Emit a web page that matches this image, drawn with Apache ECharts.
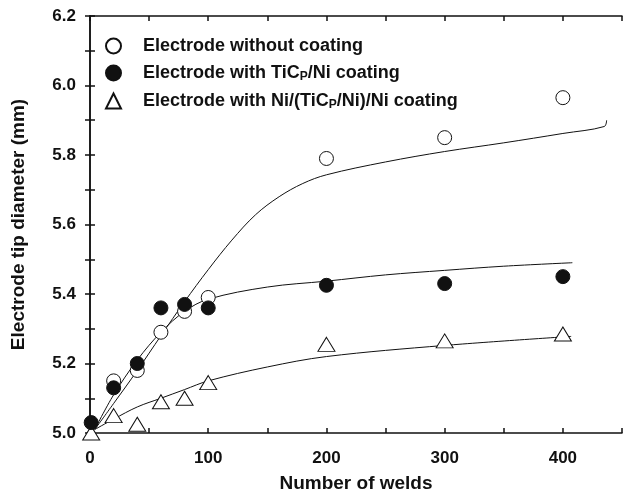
<!DOCTYPE html>
<html>
<head>
<meta charset="utf-8">
<script src="https://cdn.jsdelivr.net/npm/echarts@6/dist/echarts.min.js"></script>
<style>
  html, body { margin: 0; padding: 0; background: #fff; }
  #chart { width: 627px; height: 498px; }
</style>
</head>
<body>
<div id="chart"></div>
<script>
// measured points
const noCoat = [[20, 5.15], [40, 5.18], [60, 5.29], [80, 5.35], [100, 5.39], [200, 5.79], [300, 5.85], [400, 5.965]]
const ticCoat = [[1, 5.03], [20, 5.13], [40, 5.20], [60, 5.36], [80, 5.37], [100, 5.36], [200, 5.425], [300, 5.43], [400, 5.45]]
const niCoat = [[1, 5.0], [20, 5.05], [40, 5.025], [60, 5.09], [80, 5.10], [100, 5.145], [200, 5.255], [300, 5.265], [400, 5.285]]

// fitted curves
const fitNoCoat = [[4, 5.01], [20, 5.085], [40, 5.18], [60, 5.28], [80, 5.378], [100, 5.47], [120, 5.555], [140, 5.628], [160, 5.68], [180, 5.718], [200, 5.743], [250, 5.78], [300, 5.81], [350, 5.835], [400, 5.862], [435, 5.882], [437, 5.90]]
const fitTic = [[4, 5.01], [20, 5.11], [40, 5.21], [60, 5.29], [80, 5.35], [100, 5.385], [150, 5.42], [200, 5.437], [250, 5.455], [300, 5.468], [350, 5.48], [408, 5.49]]
const fitNi = [[4, 5.01], [20, 5.04], [40, 5.075], [60, 5.10], [80, 5.125], [100, 5.15], [150, 5.19], [200, 5.22], [300, 5.252], [407, 5.278]]

const xTicks = [0, 100, 200, 300, 400]
const yTicks = ['5.0', '5.2', '5.4', '5.6', '5.8', '6.0', '6.2']

let chart = echarts.init(document.getElementById('chart'))
const font = 'Liberation Sans, Arial, sans-serif'
const axisLine = { show: true, lineStyle: { color: '#111', width: 1.5 } }
const tick = { show: true, inside: true, length: 5, lineStyle: { color: '#111', width: 1.5 } }
const minor = { show: true, splitNumber: 2, length: 5, lineStyle: { color: '#111', width: 1.5 } }

function fitLine (data) {
  return {
    type: 'line',
    data: data,
    smooth: 0.35,
    symbol: 'none',
    lineStyle: { color: '#111', width: 1 },
    z: 1,
    silent: true
  }
}

let option = {
  animation: false,
  grid: { left: 90, right: 5, top: 16, bottom: 64 },
  legend: {
    data: ['Electrode without coating', 'Electrode with TiC', 'Electrode with Ni'],
    orient: 'vertical',
    left: 100,
    top: 32,
    itemWidth: 15,
    itemHeight: 15,
    itemGap: 9,
    formatter: function (name) {
      if (name === 'Electrode with TiC') return '{a|Electrode with TiC}{s|P}{a|/Ni coating}'
      if (name === 'Electrode with Ni') return '{a|Electrode with Ni/(TiC}{s|P}{a|/Ni)/Ni coating}'
      return '{a|' + name + '}'
    },
    textStyle: {
      padding: [0, 0, 0, 17],
      rich: {
        a: { fontFamily: font, fontWeight: 'bold', fontSize: 18, color: '#111', lineHeight: 20 },
        s: { fontFamily: font, fontWeight: 'bold', fontSize: 12, color: '#111', lineHeight: 12, verticalAlign: 'bottom' }
      }
    }
  },
  xAxis: [{
    type: 'value',
    min: 0,
    max: 450,
    interval: 100,
    name: 'Number of welds',
    nameLocation: 'middle',
    nameGap: 41,
    nameTextStyle: { fontFamily: font, fontWeight: 'bold', fontSize: 19, color: '#111' },
    axisLine: axisLine,
    axisTick: tick,
    minorTick: minor,
    splitLine: { show: false },
    axisLabel: {
      margin: 17,
      fontFamily: font,
      fontWeight: 'bold',
      fontSize: 17,
      color: '#111',
      formatter: function (v) { return xTicks.indexOf(v) >= 0 ? String(v) : '' }
    }
  }, {
    type: 'value',
    position: 'top',
    min: 0,
    max: 450,
    interval: 100,
    axisLine: axisLine,
    axisTick: tick,
    minorTick: minor,
    splitLine: { show: false },
    axisLabel: { show: false }
  }],
  yAxis: [{
    type: 'value',
    min: 5.0,
    max: 6.2,
    interval: 0.2,
    name: 'Electrode tip diameter (mm)',
    nameLocation: 'middle',
    nameGap: 62,
    nameTextStyle: { fontFamily: font, fontWeight: 'bold', fontSize: 19, color: '#111' },
    axisLine: axisLine,
    axisTick: tick,
    minorTick: minor,
    splitLine: { show: false },
    axisLabel: {
      margin: 14,
      fontFamily: font,
      fontWeight: 'bold',
      fontSize: 17,
      color: '#111',
      formatter: function (v) {
        let s = v.toFixed(1)
        return yTicks.indexOf(s) >= 0 ? s : ''
      }
    }
  }, {
    type: 'value',
    position: 'right',
    min: 5.0,
    max: 6.2,
    interval: 0.2,
    axisLine: axisLine,
    axisTick: tick,
    minorTick: minor,
    splitLine: { show: false },
    axisLabel: { show: false }
  }],
  series: [
    fitLine(fitNoCoat),
    fitLine(fitTic),
    fitLine(fitNi),
    {
      name: 'Electrode without coating',
      type: 'scatter',
      data: noCoat,
      symbol: 'circle',
      symbolSize: 14,
      itemStyle: { color: '#fff', borderColor: '#111', borderWidth: 1, opacity: 1 },
      z: 3
    },
    {
      name: 'Electrode with TiC',
      type: 'scatter',
      data: ticCoat,
      symbol: 'circle',
      symbolSize: 14,
      itemStyle: { color: '#111', borderColor: '#111', borderWidth: 1, opacity: 1 },
      z: 4
    },
    {
      name: 'Electrode with Ni',
      type: 'scatter',
      data: niCoat,
      symbol: 'triangle',
      symbolSize: [17, 14],
      itemStyle: { color: '#fff', borderColor: '#111', borderWidth: 1, opacity: 1 },
      z: 3
    }
  ]
}

chart.setOption(option)
window.addEventListener('resize', function () {
  chart.resize()
})
</script>
</body>
</html>
